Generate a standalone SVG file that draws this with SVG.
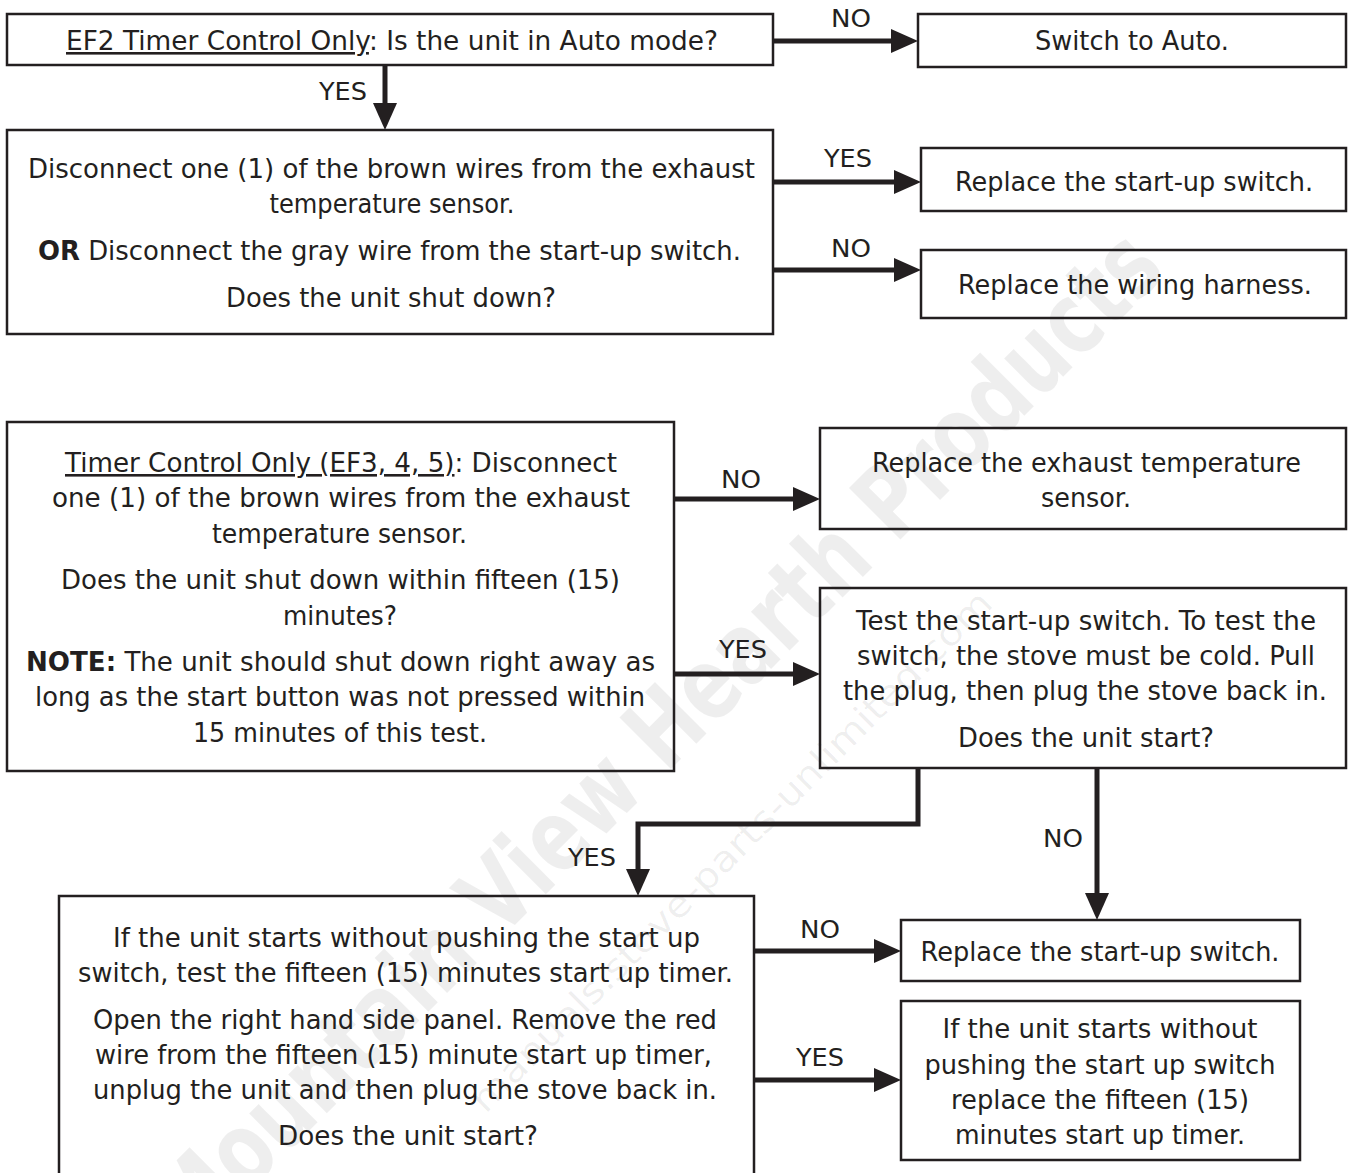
<svg xmlns="http://www.w3.org/2000/svg" width="1348" height="1173" viewBox="0 0 1348 1173">
<style>
.box{fill:none;stroke:#231f20;stroke-width:2.5}
.t{font-family:"DejaVu Sans","Liberation Sans",sans-serif;font-size:26px;fill:#231f20;text-anchor:middle}
.lbl{font-family:"DejaVu Sans","Liberation Sans",sans-serif;font-size:25px;fill:#231f20;text-anchor:middle}
.b{font-weight:bold}
.u{text-decoration:underline}
.c{fill:none;stroke:#231f20;stroke-width:5}
.wm{font-family:"DejaVu Sans","Liberation Sans",sans-serif;fill:#000;fill-opacity:0.065;text-anchor:middle}
</style>
<defs>
<marker id="ah" markerUnits="userSpaceOnUse" markerWidth="28" markerHeight="24" refX="17" refY="12" orient="auto">
<path d="M0,0 L27,12 L0,24 Z" fill="#231f20"/>
</marker>
</defs>
<rect width="1348" height="1173" fill="#fff"/>
<g id="watermark">
<text class="wm" x="680" y="760" font-size="100" font-weight="bold" textLength="1380" lengthAdjust="spacingAndGlyphs" transform="rotate(-45 680 760)">Mountain View Hearth Products</text>
<text class="wm" x="740" y="860" font-size="36" textLength="720" lengthAdjust="spacingAndGlyphs" transform="rotate(-45 740 860)">manuals.stove-parts-unlimited.com</text>
</g>
<g id="connectors">
<line class="c" x1="773" y1="41" x2="908" y2="41" marker-end="url(#ah)"/>
<line class="c" x1="385" y1="65" x2="385" y2="120" marker-end="url(#ah)"/>
<line class="c" x1="773" y1="182" x2="911" y2="182" marker-end="url(#ah)"/>
<line class="c" x1="773" y1="270" x2="911" y2="270" marker-end="url(#ah)"/>
<line class="c" x1="674" y1="499" x2="810" y2="499" marker-end="url(#ah)"/>
<line class="c" x1="674" y1="674" x2="810" y2="674" marker-end="url(#ah)"/>
<path class="c" d="M918,768 V824 H638 V886" marker-end="url(#ah)"/>
<line class="c" x1="1097" y1="768" x2="1097" y2="910" marker-end="url(#ah)"/>
<line class="c" x1="754" y1="951" x2="891" y2="951" marker-end="url(#ah)"/>
<line class="c" x1="754" y1="1080" x2="891" y2="1080" marker-end="url(#ah)"/>
<text class="lbl" x="851" y="27" textLength="40" lengthAdjust="spacingAndGlyphs">NO</text>
<text class="lbl" x="343" y="100" textLength="48" lengthAdjust="spacingAndGlyphs">YES</text>
<text class="lbl" x="848" y="167" textLength="48" lengthAdjust="spacingAndGlyphs">YES</text>
<text class="lbl" x="851" y="257" textLength="40" lengthAdjust="spacingAndGlyphs">NO</text>
<text class="lbl" x="741" y="488" textLength="40" lengthAdjust="spacingAndGlyphs">NO</text>
<text class="lbl" x="743" y="658" textLength="48" lengthAdjust="spacingAndGlyphs">YES</text>
<text class="lbl" x="592" y="866" textLength="48" lengthAdjust="spacingAndGlyphs">YES</text>
<text class="lbl" x="1063" y="847" textLength="40" lengthAdjust="spacingAndGlyphs">NO</text>
<text class="lbl" x="820" y="938" textLength="40" lengthAdjust="spacingAndGlyphs">NO</text>
<text class="lbl" x="820" y="1066" textLength="48" lengthAdjust="spacingAndGlyphs">YES</text>
</g>
<g id="n1">
<rect class="box" x="7" y="14" width="766" height="51"/>
<text class="t" x="392" y="50" textLength="652" lengthAdjust="spacingAndGlyphs"><tspan class="u">EF2 Timer Control Only</tspan>: Is the unit in Auto mode?</text>
</g>
<g id="n2">
<rect class="box" x="918" y="14" width="428" height="53"/>
<text class="t" x="1132" y="50" textLength="194" lengthAdjust="spacingAndGlyphs">Switch to Auto.</text>
</g>
<g id="n3">
<rect class="box" x="7" y="130" width="766" height="204"/>
<text class="t" x="391.5" y="178" textLength="727" lengthAdjust="spacingAndGlyphs">Disconnect one (1) of the brown wires from the exhaust</text>
<text class="t" x="392" y="213" textLength="245" lengthAdjust="spacingAndGlyphs">temperature sensor.</text>
<text class="t" x="389.5" y="260" textLength="703" lengthAdjust="spacingAndGlyphs"><tspan class="b">OR</tspan> Disconnect the gray wire from the start-up switch.</text>
<text class="t" x="391" y="307" textLength="330" lengthAdjust="spacingAndGlyphs">Does the unit shut down?</text>
</g>
<g id="n4">
<rect class="box" x="921" y="148" width="425" height="63"/>
<text class="t" x="1134" y="191" textLength="358" lengthAdjust="spacingAndGlyphs">Replace the start-up switch.</text>
</g>
<g id="n5">
<rect class="box" x="921" y="250" width="425" height="68"/>
<text class="t" x="1135" y="294" textLength="354" lengthAdjust="spacingAndGlyphs">Replace the wiring harness.</text>
</g>
<g id="n6">
<rect class="box" x="7" y="422" width="667" height="349"/>
<text class="t" x="341" y="472" textLength="552" lengthAdjust="spacingAndGlyphs"><tspan class="u">Timer Control Only (EF3, 4, 5)</tspan>: Disconnect</text>
<text class="t" x="341" y="507" textLength="578" lengthAdjust="spacingAndGlyphs">one (1) of the brown wires from the exhaust</text>
<text class="t" x="339.5" y="543" textLength="255" lengthAdjust="spacingAndGlyphs">temperature sensor.</text>
<text class="t" x="340.5" y="589" textLength="559" lengthAdjust="spacingAndGlyphs">Does the unit shut down within fifteen (15)</text>
<text class="t" x="340" y="625" textLength="114" lengthAdjust="spacingAndGlyphs">minutes?</text>
<text class="t" x="340.5" y="671" textLength="629" lengthAdjust="spacingAndGlyphs"><tspan class="b">NOTE:</tspan> The unit should shut down right away as</text>
<text class="t" x="340" y="706" textLength="610" lengthAdjust="spacingAndGlyphs">long as the start button was not pressed within</text>
<text class="t" x="340" y="742" textLength="294" lengthAdjust="spacingAndGlyphs">15 minutes of this test.</text>
</g>
<g id="n7">
<rect class="box" x="820" y="428" width="526" height="101"/>
<text class="t" x="1086.5" y="472" textLength="429" lengthAdjust="spacingAndGlyphs">Replace the exhaust temperature</text>
<text class="t" x="1086" y="507" textLength="90" lengthAdjust="spacingAndGlyphs">sensor.</text>
</g>
<g id="n8">
<rect class="box" x="820" y="588" width="526" height="180"/>
<text class="t" x="1086" y="630" textLength="460" lengthAdjust="spacingAndGlyphs">Test the start-up switch. To test the</text>
<text class="t" x="1086" y="665" textLength="458" lengthAdjust="spacingAndGlyphs">switch, the stove must be cold. Pull</text>
<text class="t" x="1085" y="700" textLength="484" lengthAdjust="spacingAndGlyphs">the plug, then plug the stove back in.</text>
<text class="t" x="1086" y="747" textLength="256" lengthAdjust="spacingAndGlyphs">Does the unit start?</text>
</g>
<g id="n9">
<rect class="box" x="59" y="896" width="695" height="290"/>
<text class="t" x="406.5" y="947" textLength="587" lengthAdjust="spacingAndGlyphs">If the unit starts without pushing the start up</text>
<text class="t" x="405.5" y="982" textLength="655" lengthAdjust="spacingAndGlyphs">switch, test the fifteen (15) minutes start up timer.</text>
<text class="t" x="405" y="1029" textLength="624" lengthAdjust="spacingAndGlyphs">Open the right hand side panel. Remove the red</text>
<text class="t" x="403.5" y="1064" textLength="617" lengthAdjust="spacingAndGlyphs">wire from the fifteen (15) minute start up timer,</text>
<text class="t" x="405" y="1099" textLength="624" lengthAdjust="spacingAndGlyphs">unplug the unit and then plug the stove back in.</text>
<text class="t" x="408" y="1145" textLength="260" lengthAdjust="spacingAndGlyphs">Does the unit start?</text>
</g>
<g id="n10">
<rect class="box" x="901" y="920" width="399" height="61"/>
<text class="t" x="1100" y="961" textLength="359" lengthAdjust="spacingAndGlyphs">Replace the start-up switch.</text>
</g>
<g id="n11">
<rect class="box" x="901" y="1001" width="399" height="159"/>
<text class="t" x="1100" y="1038" textLength="315" lengthAdjust="spacingAndGlyphs">If the unit starts without</text>
<text class="t" x="1100" y="1074" textLength="351" lengthAdjust="spacingAndGlyphs">pushing the start up switch</text>
<text class="t" x="1100" y="1109" textLength="298" lengthAdjust="spacingAndGlyphs">replace the fifteen (15)</text>
<text class="t" x="1100" y="1144" textLength="290" lengthAdjust="spacingAndGlyphs">minutes start up timer.</text>
</g>
</svg>
